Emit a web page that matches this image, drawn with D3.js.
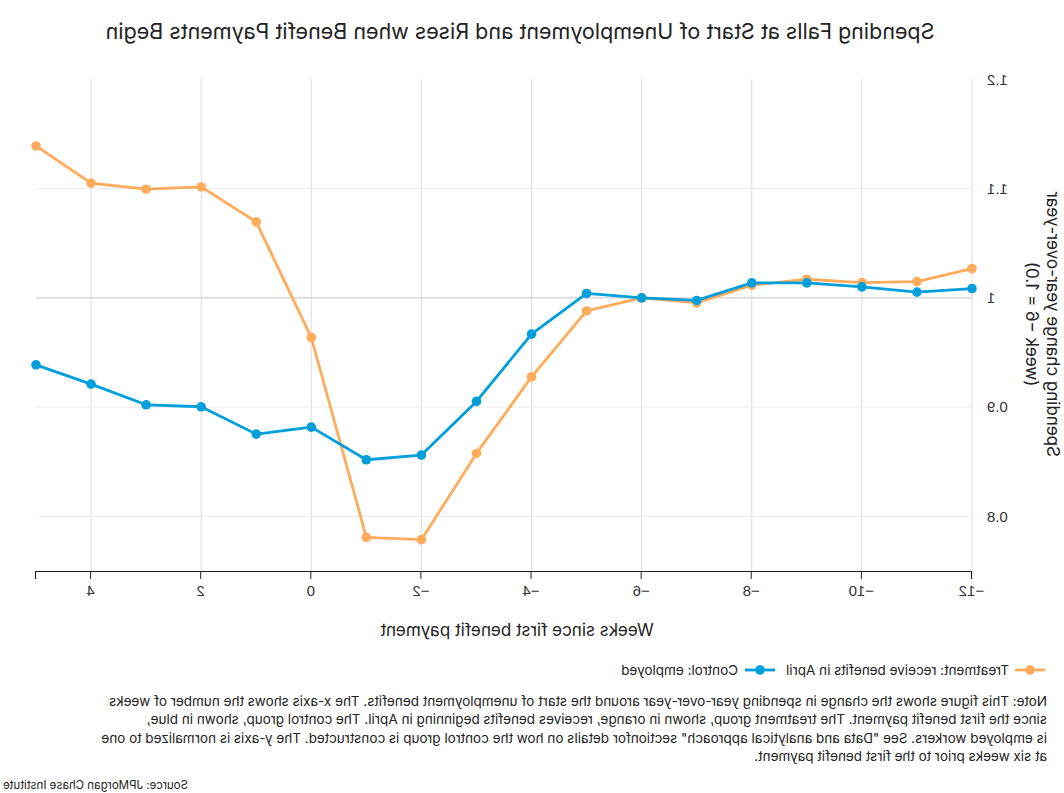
<!DOCTYPE html>
<html><head><meta charset="utf-8">
<script src="https://cdn.jsdelivr.net/npm/d3@7"></script>
<style>
body{margin:0;background:#fff;}
svg{display:block;font-family:Inter,"Liberation Sans",Arial,sans-serif;}
</style>
</head><body>
<svg id="chart" width="1064" height="793"></svg>
<script>
// ---- data ----
const weeks = [-12,-11,-10,-9,-8,-7,-6,-5,-4,-3,-2,-1,0,1,2,3,4,5];
const treatment = [1.0267,1.0149,1.014,1.017,1.0116,0.9954,1.0,0.988,0.9277,0.8576,0.7787,0.7808,0.9637,1.0695,1.1015,1.0994,1.1049,1.139];
const control   = [1.0085,1.0052,1.010,1.0137,1.0137,0.9976,1.0,1.004,0.9668,0.9052,0.8561,0.8518,0.8817,0.8753,0.9003,0.9021,0.921,0.9387];
const xTicks = [-12,-10,-8,-6,-4,-2,0,2,4];
const yTicks = [0.8,0.9,1,1.1,1.2];
const seriesNames = ["Treatment: receive benefits in April","Control: employed"];
const colors = ["#FFAB5B","#009FDB"];
const titleText = "Spending Falls at Start of Unemployment and Rises when Benefit Payments Begin";
const xTitle = "Weeks since first benefit payment";
const yTitle = ["Spending change year-over-year","(week \u22126 = 1.0)"];
const noteLines = [
 "Note: This figure shows the change in spending year-over-year around the start of unemployment benefits. The x-axis shows the number of weeks",
 "since the first benefit payment. The treatment group, shown in orange, receives benefits beginning in April. The control group, shown in blue,",
 "is employed workers. See \"Data and analytical approach\" sectionfor details on how the control group is constructed. The y-axis is normalized to one",
 "at six weeks prior to the first benefit payment."
];
const sourceText = "Source: JPMorgan Chase Institute";

// ---- layout ----
const W = 1064, H = 793;
const pL = 92, pR = 1028, pT = 79.3, pB = 571;
const svg = d3.select("#chart");
// the reference image is mirrored horizontally
const root = svg.append("g").attr("transform", `translate(${W},0) scale(-1,1)`);

const x = d3.scaleLinear().domain([-12,5]).range([pL,pR]);
const y = d3.scaleLinear().domain([0.75,1.2]).range([pB,pT]);

// grid
root.append("g").selectAll("line").data(xTicks).join("line")
  .attr("x1", d=>x(d)).attr("x2", d=>x(d)).attr("y1", pT).attr("y2", pB)
  .attr("stroke", "#dcdcdc").attr("stroke-width", 1);
root.append("g").selectAll("line").data(yTicks.filter(d=>d<1.2)).join("line")
  .attr("x1", pL).attr("x2", pR).attr("y1", d=>y(d)).attr("y2", d=>y(d))
  .attr("stroke", d=> d===1 ? "#d0d0d0" : "#ebebeb").attr("stroke-width", d=> d===1 ? 1.3 : 1);

// x axis
const xAxis = d3.axisBottom(x).tickValues(xTicks).tickSize(8).tickPadding(6)
  .tickFormat(d => d3.format("d")(d).replace("-","\u2212"));
const gx = root.append("g").attr("transform", `translate(0,${pB})`).call(xAxis);
gx.select(".domain").attr("stroke","#222").attr("stroke-width",1.2);
gx.selectAll(".tick line").attr("stroke","#222");
gx.selectAll(".tick text").attr("font-size",15).attr("fill","#333").attr("font-family","inherit");

// y axis labels
const yAxis = d3.axisLeft(y).tickValues(yTicks).tickSize(0).tickPadding(15)
  .tickFormat(d => String(+d.toFixed(1)));
const gy = root.append("g").attr("transform", `translate(${pL},0)`).call(yAxis);
gy.select(".domain").remove();
gy.selectAll(".tick text").attr("font-size",15).attr("fill","#333").attr("font-family","inherit");

// lines
const series = [treatment, control];
const line = d3.line().x((d,i)=>x(weeks[i])).y(d=>y(d));
series.forEach((vals, k) => {
  const g = root.append("g");
  g.append("path").datum(vals).attr("d", line).attr("fill","none")
    .attr("stroke", colors[k]).attr("stroke-width", 2.8).attr("stroke-linejoin","round");
  g.selectAll("circle").data(vals).join("circle")
    .attr("cx",(d,i)=>x(weeks[i])).attr("cy", d=>y(d)).attr("r",4.8).attr("fill",colors[k]);
});

// titles
root.append("text").attr("x", 544).attr("y", 39).attr("text-anchor","middle")
  .attr("font-size",21.5).attr("fill","#222").text(titleText);
root.append("text").attr("x", 547).attr("y", 636).attr("text-anchor","middle")
  .attr("font-size",17).attr("fill","#222").text(xTitle);
yTitle.forEach((t,i) => {
  root.append("text").attr("transform", `translate(${17 + i*21},${(pT+pB)/2 - 1}) rotate(-90)`)
    .attr("text-anchor","middle").attr("font-size",17).attr("fill","#222").text(t);
});

// legend
const legendItems = [{x:19, tx:55}, {x:289, tx:326}];
legendItems.forEach((p,k) => {
  const g = root.append("g");
  g.append("line").attr("x1",p.x).attr("x2",p.x+30).attr("y1",670).attr("y2",670)
    .attr("stroke",colors[k]).attr("stroke-width",2.8);
  g.append("circle").attr("cx",p.x+15).attr("cy",670).attr("r",4.8).attr("fill",colors[k]);
  g.append("text").attr("x",p.tx).attr("y",674.5).attr("font-size",13.5).attr("fill","#222").text(seriesNames[k]);
});

// note
root.append("g").selectAll("text").data(noteLines).join("text")
  .attr("x",17).attr("y",(d,i)=>706 + i*18.4).attr("font-size",13.5).attr("fill","#222").text(d=>d);
root.append("text").attr("x",1061).attr("y",789).attr("text-anchor","end")
  .attr("font-size",11.5).attr("fill","#222").text(sourceText);
</script>
</body></html>
